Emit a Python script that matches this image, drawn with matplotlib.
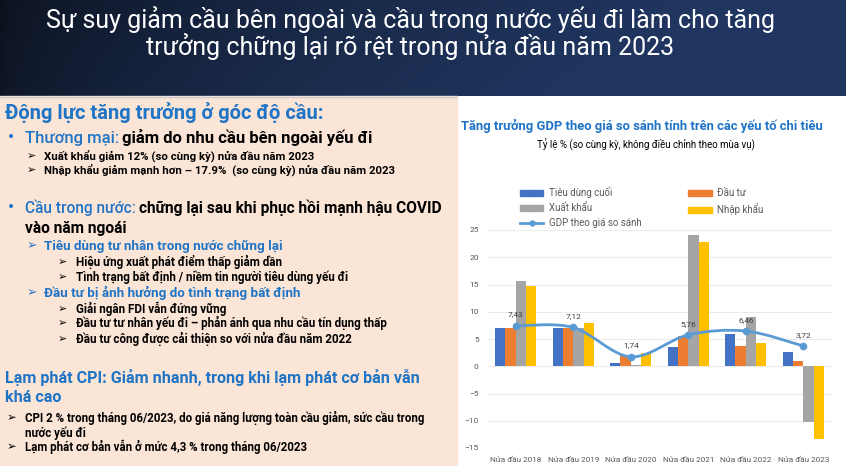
import numpy as np
import matplotlib
matplotlib.use('Agg')
import matplotlib.pyplot as plt
from matplotlib.path import Path
from matplotlib.patches import PathPatch, Rectangle, Patch
from matplotlib.lines import Line2D

# Dữ liệu biểu đồ (tăng trưởng %, so cùng kỳ)
periods = ['Nửa đầu 2018', 'Nửa đầu 2019', 'Nửa đầu 2020',
           'Nửa đầu 2021', 'Nửa đầu 2022', 'Nửa đầu 2023']
tieu_dung = [7.0, 7.0, 0.55, 3.5, 5.9, 2.6]
dau_tu = [7.0, 7.1, 2.0, 5.5, 3.7, 1.0]
xuat_khau = [15.6, 7.0, 0.2, 24.1, 9.0, -10.2]
nhap_khau = [14.8, 7.9, 2.4, 22.8, 4.2, -13.4]
gdp = [7.43, 7.12, 1.74, 5.76, 6.46, 3.72]
gdp_labels = ['7,43', '7,12', '1,74', '5,76', '6,46', '3,72']
yticks = [25, 20, 15, 10, 5, 0, -5, -10, -15]

W, H = 846, 466
FONT = ['Roboto', 'DejaVu Sans']
BLUE_TXT = '#1F74C6'

fig = plt.figure(figsize=(W / 100, H / 100), dpi=100)

# nền slide, toạ độ pixel (y tính từ trên xuống)
bg = fig.add_axes([0, 0, 1, 1], zorder=-10)
bg.set_xlim(0, W)
bg.set_ylim(H, 0)
bg.axis('off')

gx = np.linspace(0, 1, 200)
gy = np.linspace(0, 1, 40)
GX, GY = np.meshgrid(gx, gy)
t = np.clip(0.15 + 0.95 * GX ** 0.6 + 0.1 * GY, 0, 1)
c0 = np.array([8, 10, 16]) / 255
c1 = np.array([32, 54, 96]) / 255
grad = c0[None, None, :] * (1 - t[..., None]) + c1[None, None, :] * t[..., None]
bg.imshow(grad, extent=[0, W, 96, 0], aspect='auto', zorder=0)
bg.add_patch(Rectangle((0, 96), 457, H - 96, color='#FBE5D6', zorder=1))
bg.plot([0, 457], [96.5, 96.5], color='#C9CCD6', lw=1, zorder=2)

# tiêu đề
bg.text(410, 20, 'Sự suy giảm cầu bên ngoài và cầu trong nước yếu đi làm cho tăng',
        color='white', fontsize=18, ha='center', va='center', family=FONT, zorder=3)
bg.text(410, 47, 'trưởng chững lại rõ rệt trong nửa đầu năm 2023',
        color='white', fontsize=18, ha='center', va='center', family=FONT, zorder=3)

renderer = fig.canvas.get_renderer()


def txt(x, y, s, color='black', size=8, weight='bold'):
    return bg.text(x, y, s, color=color, fontsize=size, fontweight=weight,
                   ha='left', va='center', family=FONT, zorder=3)


def two_tone(x, y, s1, s2, size):
    t1 = txt(x, y, s1, BLUE_TXT, size, 'medium')
    bb = t1.get_window_extent(renderer)
    x2 = bg.transData.inverted().transform((bb.x1, bb.y0))[0]
    txt(x2 + 3, y, s2, 'black', size)


txt(5, 113, 'Động lực tăng trưởng ở góc độ cầu:', BLUE_TXT, 14.5)
txt(8, 138, '•', BLUE_TXT, 12)
two_tone(25, 138, 'Thương mại:', 'giảm do nhu cầu bên ngoài yếu đi', 12)
txt(27, 156, '➢', size=8)
txt(44, 156, 'Xuất khẩu giảm 12% (so cùng kỳ) nửa đầu năm 2023', size=8.2)
txt(27, 170, '➢', size=8)
txt(44, 170, 'Nhập khẩu giảm mạnh hơn – 17.9%  (so cùng kỳ) nửa đầu năm 2023', size=8.2)

txt(8, 208, '•', BLUE_TXT, 12)
two_tone(25, 208, 'Cầu trong nước:', 'chững lại sau khi phục hồi mạnh hậu COVID', 11.2)
txt(25, 228, 'vào năm ngoái', size=11.2)
txt(27, 246, '➢', BLUE_TXT, 9)
txt(44, 246, 'Tiêu dùng tư nhân trong nước chững lại', BLUE_TXT, 9.6)
txt(58, 262, '➢', size=8)
txt(76, 262, 'Hiệu ứng xuất phát điểm thấp giảm dần', size=8.4)
txt(58, 277, '➢', size=8)
txt(76, 277, 'Tình trạng bất định / niềm tin người tiêu dùng yếu đi', size=8.4)
txt(27, 293, '➢', BLUE_TXT, 9)
txt(44, 293, 'Đầu tư bị ảnh hưởng do tình trạng bất định', BLUE_TXT, 9.6)
txt(58, 309, '➢', size=8)
txt(76, 309, 'Giải ngân FDI vẫn đứng vững', size=8.4)
txt(58, 323, '➢', size=8)
txt(76, 323, 'Đầu tư tư nhân yếu đi – phản ánh qua nhu cầu tín dụng thấp', size=8.4)
txt(58, 339, '➢', size=8)
txt(76, 339, 'Đầu tư công được cải thiện so với nửa đầu năm 2022', size=8.4)

txt(5, 377, 'Lạm phát CPI: Giảm nhanh, trong khi lạm phát cơ bản vẫn', BLUE_TXT, 11.6)
txt(5, 398, 'khá cao', BLUE_TXT, 11.6)
txt(7, 418, '➢', size=8.3)
txt(25, 418, 'CPI 2 % trong tháng 06/2023, do giá năng lượng toàn cầu giảm, sức cầu trong', size=8.3)
txt(25, 433, 'nước yếu đi', size=8.3)
txt(7, 447, '➢', size=8.3)
txt(25, 447, 'Lạm phát cơ bản vẫn ở mức 4,3 % trong tháng 06/2023', size=8.3)

# tiêu đề biểu đồ
bg.text(642, 126, 'Tăng trưởng GDP theo giá so sánh tính trên các yếu tố chi tiêu',
        color=BLUE_TXT, fontsize=9.4, fontweight='bold', ha='center', va='center',
        family=FONT, zorder=3)
bg.text(646, 145, 'Tỷ lệ % (so cùng kỳ, không điều chỉnh theo mùa vụ)',
        color='black', fontsize=7, ha='center', va='center', family=FONT, zorder=3)

# biểu đồ
ax = fig.add_axes([487 / W, 1 - 448 / H, (832 - 487) / W, (448 - 230) / H])
ax.set_facecolor('none')
x = np.arange(len(periods))
w = 0.18
colors = ['#4472C4', '#ED7D31', '#A5A5A5', '#FFC000']
series = [tieu_dung, dau_tu, xuat_khau, nhap_khau]
for k, (vals, c) in enumerate(zip(series, colors)):
    ax.bar(x + (k - 1.5) * w, vals, width=w, color=c, zorder=2)

# đường GDP làm mượt (Bezier kiểu Excel)
pts = np.column_stack([x, gdp]).astype(float)
n = len(pts)
verts = [pts[0]]
codes = [Path.MOVETO]
for i in range(n - 1):
    p0 = pts[i - 1] if i > 0 else pts[i]
    p1 = pts[i]
    p2 = pts[i + 1]
    p3 = pts[i + 2] if i + 2 < n else pts[i + 1]
    verts += [p1 + (p2 - p0) / 6, p2 - (p3 - p1) / 6, p2]
    codes += [Path.CURVE4] * 3
ax.add_patch(PathPatch(Path(verts, codes), fill=False, edgecolor='#5B9BD5',
                       lw=2, zorder=3))
ax.plot(x, gdp, 'o', color='#5B9BD5', ms=4.5, zorder=4)
for xi, yi, lab in zip(x, gdp, gdp_labels):
    ax.text(xi, yi + 1.5, lab, ha='center', va='bottom', fontsize=6,
            color='#404040', family=FONT, zorder=5)

ax.set_xlim(-0.5, n - 0.5)
ax.set_ylim(-15, 25)
ax.set_yticks(yticks)
ax.set_xticks(x)
ax.set_xticklabels(periods)
ax.tick_params(length=0, labelsize=6, labelcolor='#595959', pad=6)
ax.tick_params(axis='x', labelsize=5.9, pad=6)
for lab in ax.get_xticklabels() + ax.get_yticklabels():
    lab.set_family(FONT)
ax.yaxis.grid(True, color='#EBEBEB', lw=0.8, zorder=0)
for s in ax.spines.values():
    s.set_visible(False)

handles = [Patch(color=colors[0], label='Tiêu dùng cuối'),
           Patch(color=colors[2], label='Xuất khẩu'),
           Line2D([], [], color='#5B9BD5', lw=2, marker='o', ms=3.5,
                  label='GDP theo giá so sánh'),
           Patch(color=colors[1], label='Đầu tư'),
           Patch(color=colors[3], label='Nhập khẩu')]
leg = fig.legend(handles=handles, ncol=2, loc='upper left',
                 bbox_to_anchor=(515 / W, 1 - 182 / H), frameon=False,
                 prop={'family': FONT, 'size': 7}, handlelength=2.4,
                 handleheight=0.6, columnspacing=4.8, labelspacing=0.5,
                 handletextpad=0.6, borderpad=0)
for t_ in leg.get_texts():
    t_.set_color('#595959')

fig.savefig('out.png', dpi=100)
